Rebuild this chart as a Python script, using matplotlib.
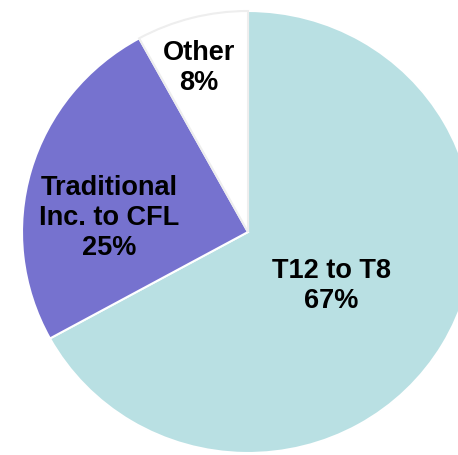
import matplotlib.pyplot as plt

labels = ["T12 to T8\n67%", "Traditional\nInc. to CFL\n25%", "Other\n8%"]
shares = [67, 25, 8]
colors = ["#b9e0e3", "#7672cf", "#ffffff"]

# label centres in pixels (from top-left of the 458x456 image)
label_px = [(331, 286), (109, 218), (199, 68)]

W, H = 458, 456
cx, cy = 248, 233
rx, ry = 226, 221

fig = plt.figure(figsize=(W / 100, H / 100), dpi=100)
ax = fig.add_axes([0, 0, 1, 1])

wedges, _ = ax.pie(shares, colors=colors, startangle=90, counterclock=False,
                   radius=1, center=(0, 0),
                   wedgeprops=dict(edgecolor="white", linewidth=1.5))
wedges[2].set_edgecolor("#eeeeee")

ax.set_aspect("auto")
ax.set_xlim(-cx / rx, (W - cx) / rx)
ax.set_ylim(-(H - cy) / ry, cy / ry)
ax.axis("off")

for lab, (px, py) in zip(labels, label_px):
    ax.text((px - cx) / rx, (cy - py) / ry, lab, ha="center", va="center",
            fontsize=19.5, fontweight="bold", family="Liberation Sans",
            linespacing=1.2, color="black")

fig.savefig("out.png", dpi=100)
